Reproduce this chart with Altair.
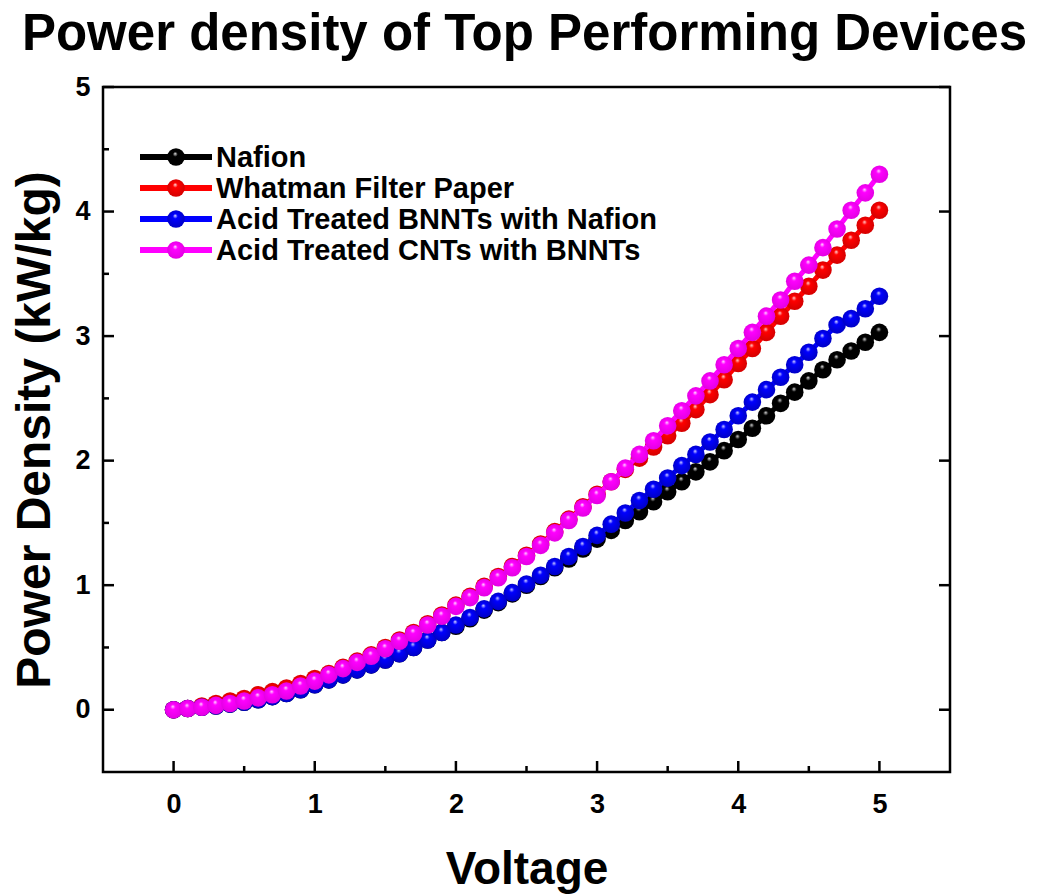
import altair as alt
import pandas as pd

# ---------------- data ----------------
voltage = [0.0, 0.1, 0.2, 0.3, 0.4, 0.5, 0.6, 0.7, 0.8, 0.9,
           1.0, 1.1, 1.2, 1.3, 1.4, 1.5, 1.6, 1.7, 1.8, 1.9,
           2.0, 2.1, 2.2, 2.3, 2.4, 2.5, 2.6, 2.7, 2.8, 2.9,
           3.0, 3.1, 3.2, 3.3, 3.4, 3.5, 3.6, 3.7, 3.8, 3.9,
           4.0, 4.1, 4.2, 4.3, 4.4, 4.5, 4.6, 4.7, 4.8, 4.9, 5.0]

nafion = [0, 0.01, 0.02, 0.03, 0.045, 0.06, 0.08, 0.105, 0.13, 0.16,
          0.20, 0.24, 0.28, 0.32, 0.36, 0.40, 0.45, 0.50, 0.56, 0.62,
          0.67, 0.73, 0.80, 0.86, 0.93, 1.00, 1.07, 1.14, 1.21, 1.29,
          1.37, 1.44, 1.52, 1.59, 1.67, 1.75, 1.83, 1.91, 1.99, 2.08,
          2.17, 2.26, 2.36, 2.46, 2.55, 2.64, 2.73, 2.81, 2.88, 2.95, 3.03]

whatman = [0, 0.01, 0.03, 0.05, 0.07, 0.09, 0.12, 0.145, 0.175, 0.21,
           0.25, 0.29, 0.34, 0.39, 0.44, 0.50, 0.56, 0.62, 0.69, 0.76,
           0.84, 0.91, 0.99, 1.07, 1.15, 1.24, 1.33, 1.43, 1.53, 1.63,
           1.73, 1.83, 1.93, 2.02, 2.11, 2.20, 2.30, 2.41, 2.53, 2.65,
           2.78, 2.90, 3.03, 3.16, 3.28, 3.40, 3.53, 3.65, 3.77, 3.89, 4.01]

bnnt_nafion = [0, 0.01, 0.02, 0.03, 0.045, 0.06, 0.08, 0.105, 0.13, 0.16,
               0.20, 0.24, 0.28, 0.32, 0.36, 0.40, 0.45, 0.50, 0.56, 0.62,
               0.68, 0.74, 0.81, 0.87, 0.94, 1.01, 1.08, 1.15, 1.23, 1.31,
               1.40, 1.49, 1.58, 1.68, 1.77, 1.86, 1.96, 2.05, 2.15, 2.25,
               2.36, 2.47, 2.57, 2.67, 2.77, 2.87, 2.98, 3.09, 3.14, 3.22, 3.32]

cnt_bnnt = [0, 0.01, 0.02, 0.035, 0.05, 0.07, 0.095, 0.12, 0.15, 0.19,
            0.23, 0.28, 0.33, 0.38, 0.43, 0.49, 0.55, 0.61, 0.68, 0.75,
            0.83, 0.90, 0.98, 1.06, 1.14, 1.23, 1.32, 1.42, 1.52, 1.62,
            1.72, 1.83, 1.94, 2.05, 2.16, 2.28, 2.40, 2.52, 2.64, 2.77,
            2.90, 3.03, 3.16, 3.29, 3.44, 3.57, 3.71, 3.86, 4.01, 4.15, 4.30]

series_names = ["Nafion", "Whatman Filter Paper",
                "Acid Treated BNNTs with Nafion", "Acid Treated CNTs with BNNTs"]
series_values = [nafion, whatman, bnnt_nafion, cnt_bnnt]
series_colors = ["#000000", "#ff0000", "#0000ff", "#ff00ff"]
highlight = ["#e6e6e6", "#ffe0e0", "#e0e0ff", "#ffe8ff"]
shadow = ["#000000", "#d00000", "#0000c0", "#e000e0"]

x_major = [0, 1, 2, 3, 4, 5]
x_minor = [0.5, 1.5, 2.5, 3.5, 4.5]
y_major = [0, 1, 2, 3, 4, 5]
y_minor = [0.5, 1.5, 2.5, 3.5, 4.5]

title_text = ["Power density of Top Performing Devices"]

# ---------------- layout ----------------
W, H = 847, 685
FONT = "Liberation Sans"
MSIZE = 310

xs = alt.Scale(domain=[-0.5, 5.5], nice=False, zero=False)
ys = alt.Scale(domain=[-0.5, 5.0], nice=False, zero=False)

xaxis = alt.Axis(values=x_major, ticks=False, grid=False, domain=False,
                 labelFont=FONT, labelFontSize=27, labelFontWeight="bold",
                 labelColor="black", labelPadding=19, labelFlush=False,
                 title="Voltage", titleFont=FONT, titleFontSize=46,
                 titleFontWeight="bold", titleColor="black",
                 titleX=W / 2, titleY=111, titleBaseline="alphabetic",
                 titleAlign="center")
yaxis = alt.Axis(values=y_major, ticks=False, grid=False, domain=False,
                 labelFont=FONT, labelFontSize=27, labelFontWeight="bold",
                 labelColor="black", labelPadding=13, labelFlush=False,
                 title="Power Density (kW/kg)", titleFont=FONT,
                 titleFontSize=48, titleFontWeight="bold", titleColor="black",
                 titleX=-68, titleY=H / 2, titleAngle=270,
                 titleBaseline="middle", titleAlign="center")


def sphere(i):
    return {
        "gradient": "radial",
        "x1": 0.45, "y1": 0.3, "r1": 0.0,
        "x2": 0.5, "y2": 0.5, "r2": 0.55,
        "stops": [
            {"offset": 0.0, "color": highlight[i]},
            {"offset": 0.25, "color": series_colors[i]},
            {"offset": 1.0, "color": shadow[i]},
        ],
    }


layers = []

# tick marks (inward)
tx_major = pd.DataFrame({"t": x_major})
tx_minor = pd.DataFrame({"t": x_minor})
ty_major = pd.DataFrame({"t": y_major})
ty_minor = pd.DataFrame({"t": y_minor})

layers.append(alt.Chart(tx_major).mark_rule(color="black", strokeWidth=2.5).encode(
    x=alt.X("t:Q", scale=xs, axis=xaxis), y=alt.value(H), y2=alt.value(H - 11)))
layers.append(alt.Chart(tx_minor).mark_rule(color="black", strokeWidth=2.5).encode(
    x=alt.X("t:Q", scale=xs, axis=xaxis), y=alt.value(H), y2=alt.value(H - 6)))
layers.append(alt.Chart(ty_major).mark_rule(color="black", strokeWidth=2.5).encode(
    y=alt.Y("t:Q", scale=ys, axis=yaxis), x=alt.value(0), x2=alt.value(11)))
layers.append(alt.Chart(ty_minor).mark_rule(color="black", strokeWidth=2.5).encode(
    y=alt.Y("t:Q", scale=ys, axis=yaxis), x=alt.value(0), x2=alt.value(6)))
layers.append(alt.Chart(ty_major).mark_rule(color="black", strokeWidth=2.5).encode(
    y=alt.Y("t:Q", scale=ys, axis=yaxis), x=alt.value(W - 11), x2=alt.value(W)))

# series
for i, (name, vals) in enumerate(zip(series_names, series_values)):
    d = pd.DataFrame({"Voltage": voltage, "Power": vals, "Series": name})
    enc = dict(x=alt.X("Voltage:Q", scale=xs, axis=xaxis),
               y=alt.Y("Power:Q", scale=ys, axis=yaxis))
    layers.append(alt.Chart(d).mark_line(color=series_colors[i], strokeWidth=5).encode(**enc))
    layers.append(alt.Chart(d).mark_point(filled=True, fill=sphere(i), size=MSIZE,
                                          opacity=1, shape="circle").encode(**enc))

# legend (inside plot, top-left)
for i, name in enumerate(series_names):
    yy = 70 + 31 * i
    ld = pd.DataFrame({"label": [name]})
    layers.append(alt.Chart(ld).mark_rule(color=series_colors[i], strokeWidth=6).encode(
        x=alt.value(37), x2=alt.value(109), y=alt.value(yy)))
    layers.append(alt.Chart(ld).mark_point(filled=True, fill=sphere(i), size=MSIZE,
                                           opacity=1, shape="circle").encode(
        x=alt.value(73), y=alt.value(yy)))
    layers.append(alt.Chart(ld).mark_text(align="left", baseline="middle", font=FONT,
                                          fontSize=29, fontWeight="bold", color="black").encode(
        x=alt.value(113), y=alt.value(yy + 1), text="label:N"))

# frame
frame_df = pd.DataFrame({"f": [0]})
layers.append(alt.Chart(frame_df).mark_rect(fillOpacity=0, stroke="black", strokeWidth=2.5).encode(
    x=alt.value(0), x2=alt.value(W), y=alt.value(0), y2=alt.value(H)))

# title as a text mark above the plot
layers.append(alt.Chart(pd.DataFrame({"title": title_text})).mark_text(
    align="center", baseline="alphabetic", font=FONT, fontSize=51,
    fontWeight="bold", color="black").encode(
    x=alt.value(W / 2 - 2), y=alt.value(-37), text="title:N"))

chart = alt.layer(*layers).properties(
    width=W, height=H,
    autosize=alt.AutoSizeParams(type="none"),
    padding={"left": 103, "top": 87, "right": 87, "bottom": 124},
).configure_view(stroke=None).configure(background="white")

chart.save("out.html", embed_options={"renderer": "svg", "actions": False})
